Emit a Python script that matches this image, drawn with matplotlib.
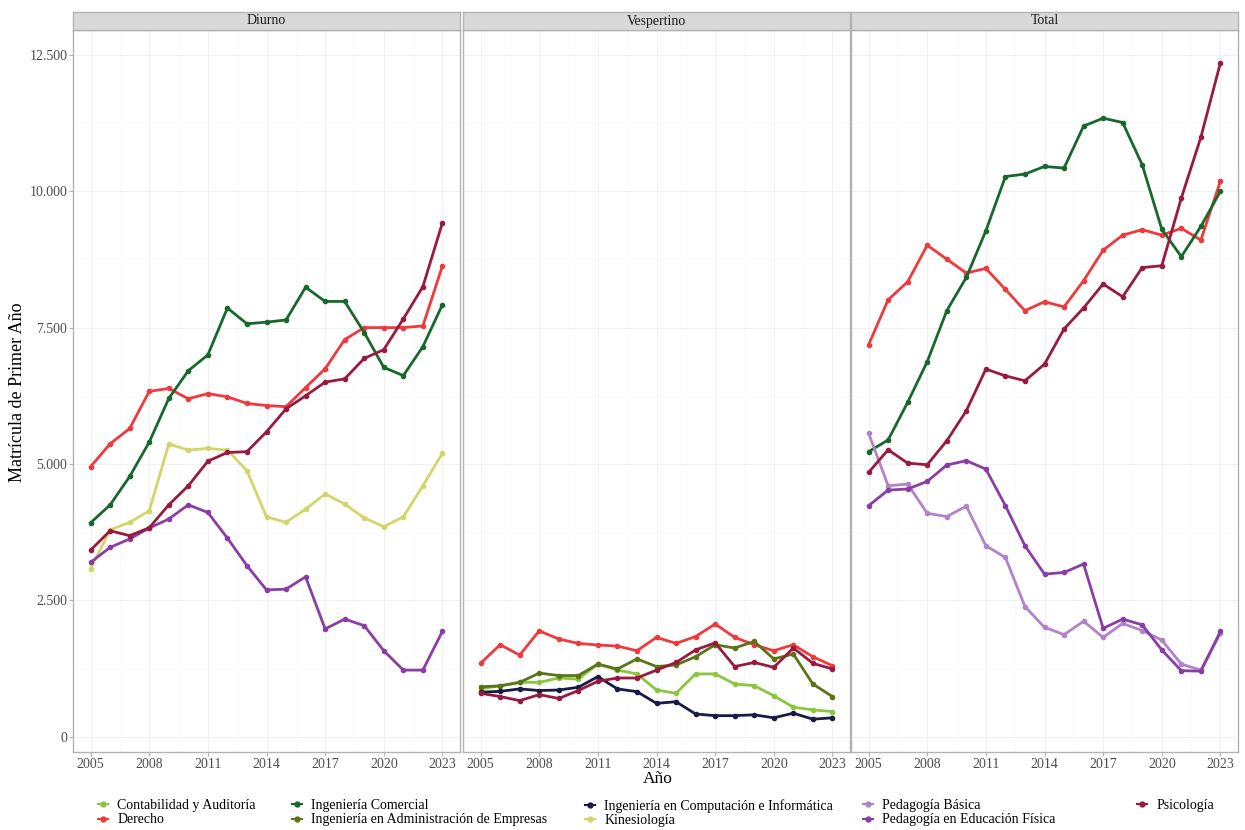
import numpy as np
import matplotlib.pyplot as plt
from matplotlib.ticker import FuncFormatter, MultipleLocator
from matplotlib.lines import Line2D

plt.rcParams["font.family"] = ["Liberation Serif", "DejaVu Serif"]

years = list(range(2005, 2024))
xticks = [2005, 2008, 2011, 2014, 2017, 2020, 2023]

# Diurno
diu_derecho = [4950, 5370, 5650, 6330, 6385, 6195, 6290, 6230, 6110, 6070,
               6050, 6400, 6745, 7280, 7500, 7500, 7500, 7530, 8630]
diu_ing_comercial = [3920, 4250, 4770, 5400, 6200, 6710, 7000, 7860, 7570, 7600,
                     7640, 8240, 7980, 7980, 7410, 6770, 6620, 7150, 7920]
diu_psicologia = [3420, 3775, 3685, 3830, 4250, 4600, 5050, 5210, 5225, 5590,
                  6010, 6250, 6500, 6560, 6935, 7095, 7660, 8250, 9420]
diu_kinesiologia = [3080, 3790, 3930, 4140, 5365, 5255, 5285, 5255, 4875, 4030,
                    3930, 4170, 4450, 4265, 4010, 3850, 4030, 4600, 5195]
diu_ped_ed_fisica = [3195, 3470, 3625, 3825, 3990, 4250, 4110, 3640, 3135, 2690,
                     2705, 2930, 1975, 2155, 2035, 1575, 1220, 1220, 1930]

# Vespertino
ves_contabilidad = [875, 935, 995, 995, 1075, 1055, 1330, 1220, 1150, 855,
                    795, 1150, 1150, 965, 935, 750, 540, 490, 460]
ves_derecho = [1345, 1685, 1495, 1940, 1790, 1710, 1680, 1660, 1575, 1820,
               1710, 1835, 2065, 1820, 1685, 1575, 1685, 1465, 1300]
ves_ing_computacion = [815, 830, 875, 845, 855, 905, 1100, 875, 825, 610,
                       640, 415, 385, 385, 400, 345, 430, 320, 345]
ves_ing_adm_empresas = [915, 930, 995, 1165, 1120, 1120, 1330, 1240, 1425, 1285,
                        1315, 1465, 1685, 1625, 1745, 1425, 1515, 965, 735]
ves_psicologia = [795, 735, 660, 770, 700, 845, 1015, 1075, 1075, 1220,
                  1360, 1590, 1720, 1285, 1360, 1270, 1625, 1345, 1240]

# Total
tot_derecho = [7185, 8010, 8340, 9010, 8755, 8500, 8585, 8200, 7810, 7975,
               7880, 8360, 8920, 9195, 9295, 9195, 9320, 9105, 10185]
tot_ing_comercial = [5225, 5440, 6130, 6875, 7810, 8420, 9275, 10270, 10315, 10455,
                     10425, 11195, 11340, 11260, 10485, 9305, 8800, 9355, 10000]
tot_ped_basica = [5565, 4600, 4630, 4095, 4035, 4225, 3500, 3285, 2385, 2005,
                  1870, 2115, 1820, 2075, 1945, 1770, 1330, 1220, 1895]
tot_ped_ed_fisica = [4235, 4520, 4540, 4680, 4980, 5060, 4905, 4235, 3500, 2980,
                     3010, 3165, 1985, 2155, 2050, 1590, 1210, 1200, 1930]
tot_psicologia = [4845, 5260, 5015, 4985, 5425, 5975, 6740, 6615, 6525, 6830,
                  7475, 7860, 8300, 8065, 8600, 8635, 9875, 10990, 12355]

carreras = ["Contabilidad y Auditoría", "Derecho", "Ingeniería Comercial",
            "Ingeniería en Administración de Empresas",
            "Ingeniería en Computación e Informática", "Kinesiología",
            "Pedagogía Básica", "Pedagogía en Educación Física", "Psicología"]
colores = ["#8cc63e", "#f0393c", "#17692b", "#5a7417", "#1a1a47",
           "#d3d56b", "#b283c8", "#8a3ea5", "#9a1a3f"]
color_de = dict(zip(carreras, colores))

paneles = {
    "Diurno": {"Derecho": diu_derecho, "Ingeniería Comercial": diu_ing_comercial,
               "Kinesiología": diu_kinesiologia,
               "Pedagogía en Educación Física": diu_ped_ed_fisica,
               "Psicología": diu_psicologia},
    "Vespertino": {"Contabilidad y Auditoría": ves_contabilidad, "Derecho": ves_derecho,
                   "Ingeniería en Administración de Empresas": ves_ing_adm_empresas,
                   "Ingeniería en Computación e Informática": ves_ing_computacion,
                   "Psicología": ves_psicologia},
    "Total": {"Derecho": tot_derecho, "Ingeniería Comercial": tot_ing_comercial,
              "Pedagogía Básica": tot_ped_basica,
              "Pedagogía en Educación Física": tot_ped_ed_fisica,
              "Psicología": tot_psicologia},
}

todos = [v for p in paneles.values() for s in p.values() for v in s]
rango = max(todos) - min(todos)
ylim = (min(todos) - 0.05 * rango, max(todos) + 0.05 * rango)
xlim = (2005 - 0.9, 2023 + 0.9)

W, H = 1245, 830
fig = plt.figure(figsize=(W / 100, H / 100), dpi=100)

gris = "#4d4d4d"
borde = "#b3b3b3"
lefts = [73, 463, 851]
ancho = 387
top, bottom = 30, 752

miles = FuncFormatter(lambda v, pos: f"{int(v):,}".replace(",", "."))

for i, (nombre, series) in enumerate(paneles.items()):
    ax = fig.add_axes([lefts[i] / W, 1 - bottom / H, ancho / W, (bottom - top) / H])
    for carrera in carreras:
        if carrera in series:
            ax.plot(years, series[carrera], color=color_de[carrera], lw=2.0,
                    marker="o", ms=3, zorder=3)
    ax.set_xlim(*xlim)
    ax.set_ylim(*ylim)
    ax.set_xticks(xticks)
    ax.set_xticks([x + 1.5 for x in xticks[:-1]], minor=True)
    ax.yaxis.set_major_locator(MultipleLocator(2500))
    ax.yaxis.set_minor_locator(MultipleLocator(1250))
    ax.grid(which="major", color="#efefef", lw=0.6)
    ax.grid(which="minor", color="#f7f7f7", lw=0.4)
    ax.set_axisbelow(True)
    ax.tick_params(which="minor", length=0)
    ax.tick_params(which="major", length=3, color=borde, labelcolor=gris,
                   labelsize=10, pad=1.0)
    ax.yaxis.set_major_formatter(miles)
    if i > 0:
        ax.tick_params(axis="y", left=False, labelleft=False)
    for s in ax.spines.values():
        s.set_color(borde)
        s.set_linewidth(1.0)

    # franja del panel
    sx = fig.add_axes([lefts[i] / W, 1 - top / H, ancho / W, 18 / H])
    sx.set_facecolor("#d9d9d9")
    sx.set_xticks([])
    sx.set_yticks([])
    for s in sx.spines.values():
        s.set_color(borde)
        s.set_linewidth(1.0)
    sx.text(0.5, 0.5, nombre, ha="center", va="center", fontsize=10, color="#1a1a1a",
            transform=sx.transAxes)

fig.text(18 / W, 1 - 392 / H, "Matrícula de Primer Año", rotation=90,
         ha="center", va="center", fontsize=13)
fig.text(658 / W, 1 - 779 / H, "Año", ha="center", va="center", fontsize=12.5)

# leyenda en columnas
columnas = [["Contabilidad y Auditoría", "Derecho"],
            ["Ingeniería Comercial", "Ingeniería en Administración de Empresas"],
            ["Ingeniería en Computación e Informática", "Kinesiología"],
            ["Pedagogía Básica", "Pedagogía en Educación Física"],
            ["Psicología"]]
xs_col = [98, 292, 585, 863, 1137]
for xc, col in zip(xs_col, columnas):
    handles = [Line2D([0], [0], color=color_de[c], lw=1.5, marker="o", ms=3.5)
               for c in col]
    fig.legend(handles, col, loc="upper left", bbox_to_anchor=(xc / W, 1 - 799 / H),
               frameon=False, fontsize=10, handlelength=0.7, handletextpad=0.7,
               labelspacing=0.1, borderpad=0, borderaxespad=0)

fig.savefig("out.png", dpi=100)
